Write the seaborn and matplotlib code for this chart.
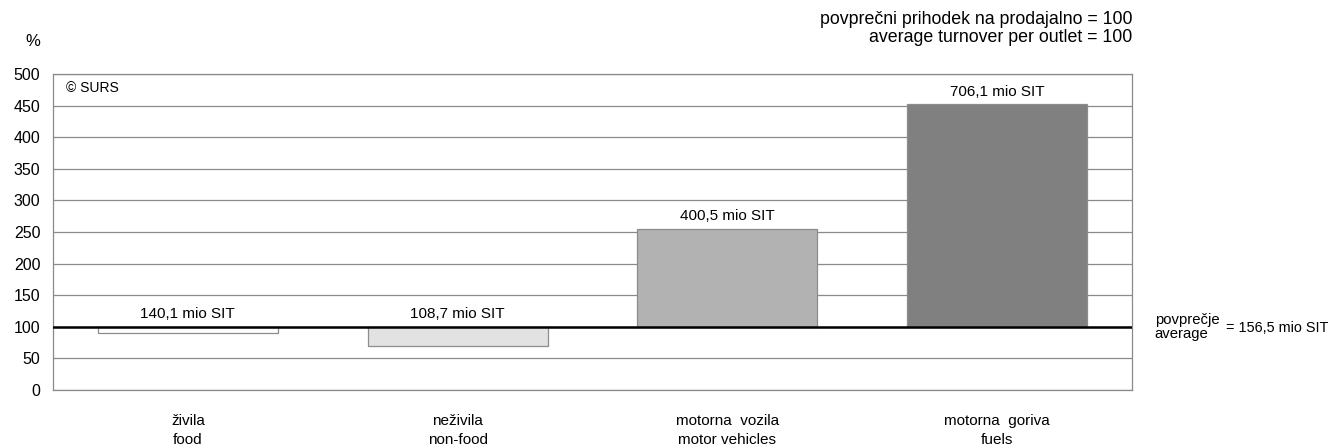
import numpy as np
import pandas as pd
from matplotlib import pyplot as plt
import seaborn as sns

# indeks povprecnega prihodka na prodajalno (povprecje = 100)
categories = ["živila\nfood", "neživila\nnon-food", "motorna  vozila\nmotor vehicles", "motorna  goriva\nfuels"]
index_values = [90.0, 69.5, 255.0, 452.0]
bar_labels = ["140,1 mio SIT", "108,7 mio SIT", "400,5 mio SIT", "706,1 mio SIT"]
bar_colors = ["#ffffff", "#e2e2e2", "#b2b2b2", "#808080"]
baseline = 100

sns.set_style("white")
plt.rcParams['font.family'] = ['Liberation Sans', 'DejaVu Sans']
plt.rcParams['text.color'] = "black"
plt.rcParams['xtick.color'] = "black"
plt.rcParams['ytick.color'] = "black"

df = pd.DataFrame({"cat": categories, "diff": np.array(index_values) - baseline})

fig = plt.figure(figsize=(13.3, 4.48), dpi=100)
ax = fig.add_axes([53 / 1330, 1 - 390 / 448, (1132 - 53) / 1330, (390 - 74) / 448])

sns.barplot(data=df, x="cat", y="diff", hue="cat", palette=bar_colors, legend=False,
            width=0.667, bottom=baseline, edgecolor="#8c8c8c", linewidth=0.9,
            saturation=1, ax=ax, zorder=3)

ax.set_ylim(0, 500)
ax.set_yticks(np.arange(0, 501, 50))
ax.yaxis.grid(True, color="#8a8a8a", linewidth=0.9, zorder=0)
ax.axhline(baseline, color="black", linewidth=1.8, zorder=4)

for sp in ["left", "right", "bottom", "top"]:
    ax.spines[sp].set_visible(True)
    ax.spines[sp].set_color("#8a8a8a")
    ax.spines[sp].set_linewidth(0.9)

ax.tick_params(axis="y", length=6, color="#8a8a8a", labelcolor="black", labelsize=11.5, pad=3)
ax.tick_params(axis="x", length=0, labelcolor="black", labelsize=11, pad=17)
for t in ax.get_xticklabels():
    t.set_linespacing(1.5)
ax.set_xlabel("")
ax.set_ylabel("")

for i, (v, lab) in enumerate(zip(index_values, bar_labels)):
    ax.text(i, max(v, baseline) + 9, lab, ha="center", va="bottom", fontsize=11)

ax.text(0.012, 0.955, "© SURS", transform=ax.transAxes, ha="left", va="center", fontsize=10)

fig.text(1132 / 1330, 1 - 19 / 448, "povprečni prihodek na prodajalno = 100", ha="right", va="center", fontsize=12.8)
fig.text(1132 / 1330, 1 - 37 / 448, "average turnover per outlet = 100", ha="right", va="center", fontsize=12.8)
fig.text(33 / 1330, 1 - 42 / 448, "%", ha="center", va="center", fontsize=12)

ax.text(1.021, baseline, "povprečje\naverage", transform=ax.get_yaxis_transform(),
        ha="left", va="center", fontsize=10.7, linespacing=1.0)
ax.text(1.087, baseline - 2, "= 156,5 mio SIT", transform=ax.get_yaxis_transform(),
        ha="left", va="center", fontsize=10.4)

plt.savefig("out.png", dpi=100)
